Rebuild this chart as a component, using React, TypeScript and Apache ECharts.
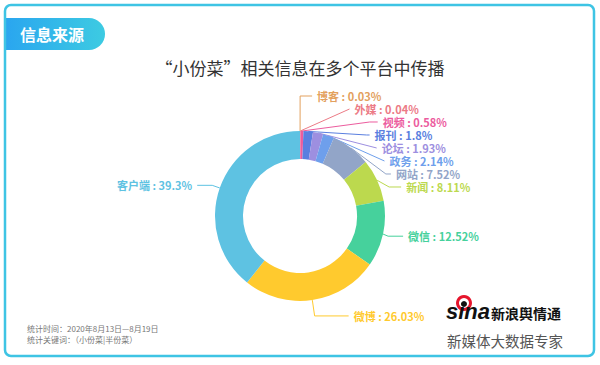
import React, { useEffect, useRef } from "react";
import * as echarts from "echarts";

const categories = ["博客", "外媒", "视频", "报刊", "论坛", "政务", "网站", "新闻", "微信", "微博", "客户端"];
const values = [0.03, 0.04, 0.58, 1.8, 1.93, 2.14, 7.52, 8.11, 12.52, 26.03, 39.3];
const colors = ["#e3a15e", "#ec7b86", "#ec5c9e", "#5a7fe0", "#9d8fe0", "#6e9fec", "#92a5c8", "#bcd94e", "#46d19c", "#ffca2e", "#5ec2e2"];
const lineLen1 = [35, 35, 35, 12, 8, 10, 12, 12, 10, 16, 8];
const lineLen2 = [12, 0, 8, 3, 5, 5, 5, 12, 15, 34, 15];

const titleText = "“小份菜”相关信息在多个平台中传播";
const headerText = "信息来源";
const noteLines = ["统计时间：2020年8月13日—8月19日", "统计关键词：（小份菜|半份菜）"];

const CJK = "'Noto Sans CJK SC', 'Noto Sans', sans-serif";

export default function App() {
  const ref = useRef<HTMLDivElement>(null);
  useEffect(() => {
    if (!ref.current) return;
    const chart = echarts.init(ref.current, null, { renderer: "svg" });
    const data = categories.map((name, i) => ({
      name,
      value: values[i],
      itemStyle: { color: colors[i] },
      label: { color: colors[i] },
      labelLine: { length: lineLen1[i], length2: lineLen2[i], lineStyle: { color: colors[i] } },
    }));
    chart.setOption({
      animation: false,
      backgroundColor: "#ffffff",
      title: {
        text: titleText,
        left: "center",
        top: 54,
        textStyle: { fontFamily: CJK, fontSize: 17, fontWeight: "normal", color: "#333" },
      },
      series: [
        {
          type: "pie",
          center: [300, 216],
          radius: [57, 85],
          startAngle: 90,
          clockwise: true,
          avoidLabelOverlap: true,
          label: {
            show: true,
            formatter: "{b} : {c}%",
            fontFamily: CJK,
            fontSize: 11,
            lineHeight: 9.5,
            fontWeight: "bold",
          },
          labelLine: { show: true, lineStyle: { width: 1 } },
          data,
        },
      ],
      graphic: [
        {
          type: "rect",
          shape: { x: 5, y: 5, width: 589, height: 351, r: 6 },
          style: { fill: "none", stroke: "#3ec4e4", lineWidth: 2.5 },
          z: 10,
        },
        {
          type: "rect",
          shape: { x: 6, y: 18, width: 99, height: 32, r: [0, 16, 16, 0] },
          style: {
            fill: new echarts.graphic.LinearGradient(0, 0, 1, 0, [
              { offset: 0, color: "#2aa6ef" },
              { offset: 1, color: "#3dcbe2" },
            ]),
          },
        },
        {
          type: "text",
          x: 20,
          y: 34,
          style: {
            text: headerText,
            fill: "#fff",
            font: `bold 16px ${CJK}`,
            verticalAlign: "middle",
          },
        },
        {
          type: "text",
          x: 27,
          y: 328,
          style: { text: noteLines[0], fill: "#777", font: `8px ${CJK}`, verticalAlign: "middle" },
        },
        {
          type: "text",
          x: 27,
          y: 339,
          style: { text: noteLines[1], fill: "#777", font: `8px ${CJK}`, verticalAlign: "middle" },
        },
        // sina logo
        {
          type: "ring",
          shape: { cx: 464, cy: 303, r: 8, r0: 5 },
          style: { fill: "#e6162d" },
        },
        {
          type: "circle",
          shape: { cx: 464, cy: 304, r: 3 },
          style: { fill: "#111" },
        },
        {
          type: "text",
          x: 446,
          y: 322,
          style: {
            text: "sina",
            fill: "#111",
            font: `italic bold 22px 'Liberation Sans', sans-serif`,
            verticalAlign: "bottom",
          },
        },
        {
          type: "text",
          x: 491,
          y: 320,
          style: {
            text: "新浪舆情通",
            fill: "#111",
            font: `bold 14px ${CJK}`,
            verticalAlign: "bottom",
          },
        },
        {
          type: "text",
          x: 447,
          y: 340,
          style: {
            text: "新媒体大数据专家",
            fill: "#555",
            font: `14.5px ${CJK}`,
            verticalAlign: "middle",
          },
        },
      ],
    });
    return () => chart.dispose();
  }, []);
  return <div ref={ref} style={{ width: 600, height: 365, position: "absolute", left: 0, top: 0 }} />;
}
